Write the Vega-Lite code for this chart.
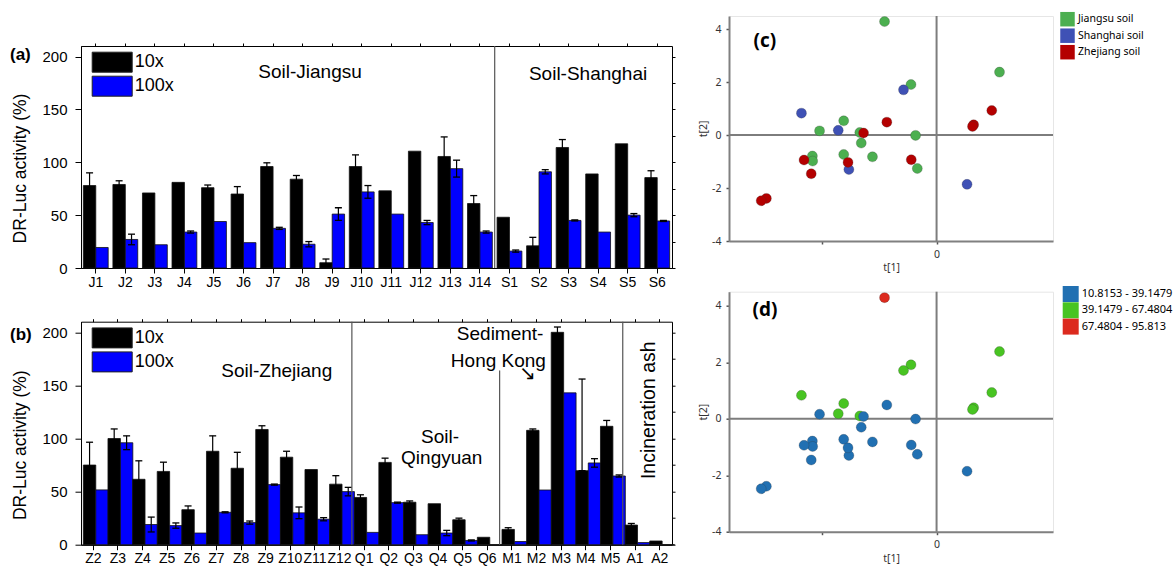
{
  "$schema": "https://vega.github.io/schema/vega-lite/v6.json",
  "autosize": "none",
  "padding": {"left": 81, "top": 16, "right": 1092, "bottom": 552},
  "background": "white",
  "config": {
    "font": "Liberation Sans",
    "view": {"stroke": "#000", "strokeWidth": 1},
    "axis": {"grid": false, "labelColor": "#000", "tickColor": "#000", "domainColor": "#000", "titleColor": "#000"},
    "legend": {"labelColor": "#000"}
  },
  "datasets": {
    "A": [
      {"cat":"J1","dil":"10x","v":78,"lo":66,"hi":90},{"cat":"J1","dil":"100x","v":19.4},
      {"cat":"J2","dil":"10x","v":79,"lo":75.5,"hi":82.5},{"cat":"J2","dil":"100x","v":27,"lo":22,"hi":32},
      {"cat":"J3","dil":"10x","v":71},{"cat":"J3","dil":"100x","v":22},
      {"cat":"J4","dil":"10x","v":81},{"cat":"J4","dil":"100x","v":34,"lo":33,"hi":35},
      {"cat":"J5","dil":"10x","v":76,"lo":73.5,"hi":78.5},{"cat":"J5","dil":"100x","v":44},
      {"cat":"J6","dil":"10x","v":70,"lo":63,"hi":77},{"cat":"J6","dil":"100x","v":24},
      {"cat":"J7","dil":"10x","v":96,"lo":92.5,"hi":99.5},{"cat":"J7","dil":"100x","v":37.5,"lo":36.5,"hi":38.5},
      {"cat":"J8","dil":"10x","v":84,"lo":80.5,"hi":87.5},{"cat":"J8","dil":"100x","v":22.5,"lo":20,"hi":25},
      {"cat":"J9","dil":"10x","v":5,"lo":1.5,"hi":8.5},{"cat":"J9","dil":"100x","v":51,"lo":45,"hi":57},
      {"cat":"J10","dil":"10x","v":96,"lo":85,"hi":107},{"cat":"J10","dil":"100x","v":72,"lo":66,"hi":78},
      {"cat":"J11","dil":"10x","v":73},{"cat":"J11","dil":"100x","v":51},
      {"cat":"J12","dil":"10x","v":110.5},{"cat":"J12","dil":"100x","v":43,"lo":41,"hi":45},
      {"cat":"J13","dil":"10x","v":105.5,"lo":87,"hi":124},{"cat":"J13","dil":"100x","v":94,"lo":86,"hi":102},
      {"cat":"J14","dil":"10x","v":61,"lo":53.5,"hi":68.5},{"cat":"J14","dil":"100x","v":34,"lo":33,"hi":35},
      {"cat":"S1","dil":"10x","v":48},{"cat":"S1","dil":"100x","v":16,"lo":15,"hi":17},
      {"cat":"S2","dil":"10x","v":21,"lo":13,"hi":29},{"cat":"S2","dil":"100x","v":91,"lo":89,"hi":93},
      {"cat":"S3","dil":"10x","v":114,"lo":106.5,"hi":121.5},{"cat":"S3","dil":"100x","v":45,"lo":44.5,"hi":45.5},
      {"cat":"S4","dil":"10x","v":89},{"cat":"S4","dil":"100x","v":34},
      {"cat":"S5","dil":"10x","v":117.5},{"cat":"S5","dil":"100x","v":50,"lo":48.5,"hi":51.5},
      {"cat":"S6","dil":"10x","v":85.5,"lo":79,"hi":92},{"cat":"S6","dil":"100x","v":44.5,"lo":44,"hi":45}
    ],
    "B": [
      {"cat":"Z2","dil":"10x","v":75,"lo":53.5,"hi":96.5},{"cat":"Z2","dil":"100x","v":51.6},
      {"cat":"Z3","dil":"10x","v":100,"lo":91,"hi":109},{"cat":"Z3","dil":"100x","v":96,"lo":89.5,"hi":102.5},
      {"cat":"Z4","dil":"10x","v":61.6,"lo":44.2,"hi":79},{"cat":"Z4","dil":"100x","v":19,"lo":12,"hi":26},
      {"cat":"Z5","dil":"10x","v":69,"lo":60.3,"hi":77.7},{"cat":"Z5","dil":"100x","v":18,"lo":15.5,"hi":20.5},
      {"cat":"Z6","dil":"10x","v":33,"lo":29.5,"hi":36.5},{"cat":"Z6","dil":"100x","v":11},
      {"cat":"Z7","dil":"10x","v":88,"lo":73.5,"hi":102.5},{"cat":"Z7","dil":"100x","v":30.5,"lo":30,"hi":31},
      {"cat":"Z8","dil":"10x","v":72,"lo":57,"hi":87},{"cat":"Z8","dil":"100x","v":20.8,"lo":19.3,"hi":22.3},
      {"cat":"Z9","dil":"10x","v":108.5,"lo":105,"hi":112},{"cat":"Z9","dil":"100x","v":56.6,"lo":56.1,"hi":57.1},
      {"cat":"Z10","dil":"10x","v":82.4,"lo":76.8,"hi":88},{"cat":"Z10","dil":"100x","v":30,"lo":24.5,"hi":35.5},
      {"cat":"Z11","dil":"10x","v":70.8},{"cat":"Z11","dil":"100x","v":24,"lo":22.5,"hi":25.5},
      {"cat":"Z12","dil":"10x","v":57,"lo":49,"hi":65},{"cat":"Z12","dil":"100x","v":50,"lo":46,"hi":54},
      {"cat":"Q1","dil":"10x","v":44.5,"lo":42,"hi":47},{"cat":"Q1","dil":"100x","v":11.6},
      {"cat":"Q2","dil":"10x","v":77.5,"lo":73.5,"hi":81.5},{"cat":"Q2","dil":"100x","v":39.6,"lo":39.1,"hi":40.1},
      {"cat":"Q3","dil":"10x","v":40,"lo":38.8,"hi":41.2},{"cat":"Q3","dil":"100x","v":9.4},
      {"cat":"Q4","dil":"10x","v":38.6},{"cat":"Q4","dil":"100x","v":11,"lo":8.5,"hi":13.5},
      {"cat":"Q5","dil":"10x","v":23.5,"lo":22,"hi":25},{"cat":"Q5","dil":"100x","v":4,"lo":3.5,"hi":4.5},
      {"cat":"Q6","dil":"10x","v":7},{"cat":"Q6","dil":"100x","v":0},
      {"cat":"M1","dil":"10x","v":14.4,"lo":12.8,"hi":16},{"cat":"M1","dil":"100x","v":3},
      {"cat":"M2","dil":"10x","v":107.7,"lo":106.4,"hi":109},{"cat":"M2","dil":"100x","v":51.5},
      {"cat":"M3","dil":"10x","v":200,"lo":195,"hi":205},{"cat":"M3","dil":"100x","v":143},
      {"cat":"M4","dil":"10x","v":69.7,"lo":69.7,"hi":156},{"cat":"M4","dil":"100x","v":77,"lo":73,"hi":81},
      {"cat":"M5","dil":"10x","v":111.5,"lo":106,"hi":117},{"cat":"M5","dil":"100x","v":64.7,"lo":63.7,"hi":65.7},
      {"cat":"A1","dil":"10x","v":18.5,"lo":17,"hi":20},{"cat":"A1","dil":"100x","v":2},
      {"cat":"A2","dil":"10x","v":3.5},{"cat":"A2","dil":"100x","v":0}
    ],
    "P": [
      {"t1":-1.81,"t2":4.29,"soil":"Jiangsu soil","grp":"67.4804 - 95.813"},
      {"t1":2.19,"t2":2.38,"soil":"Jiangsu soil","grp":"39.1479 - 67.4804"},
      {"t1":-0.89,"t2":1.91,"soil":"Jiangsu soil","grp":"39.1479 - 67.4804"},
      {"t1":-3.23,"t2":0.54,"soil":"Jiangsu soil","grp":"39.1479 - 67.4804"},
      {"t1":-4.07,"t2":0.16,"soil":"Jiangsu soil","grp":"10.8153 - 39.1479"},
      {"t1":-2.67,"t2":0.10,"soil":"Jiangsu soil","grp":"39.1479 - 67.4804"},
      {"t1":-2.62,"t2":-0.30,"soil":"Jiangsu soil","grp":"10.8153 - 39.1479"},
      {"t1":-0.73,"t2":-0.01,"soil":"Jiangsu soil","grp":"10.8153 - 39.1479"},
      {"t1":-4.32,"t2":-0.79,"soil":"Jiangsu soil","grp":"10.8153 - 39.1479"},
      {"t1":-4.31,"t2":-0.98,"soil":"Jiangsu soil","grp":"10.8153 - 39.1479"},
      {"t1":-3.23,"t2":-0.73,"soil":"Jiangsu soil","grp":"10.8153 - 39.1479"},
      {"t1":-2.23,"t2":-0.82,"soil":"Jiangsu soil","grp":"10.8153 - 39.1479"},
      {"t1":-0.67,"t2":-1.26,"soil":"Jiangsu soil","grp":"10.8153 - 39.1479"},
      {"t1":-4.70,"t2":0.83,"soil":"Shanghai soil","grp":"39.1479 - 67.4804"},
      {"t1":-3.42,"t2":0.18,"soil":"Shanghai soil","grp":"39.1479 - 67.4804"},
      {"t1":-1.15,"t2":1.71,"soil":"Shanghai soil","grp":"39.1479 - 67.4804"},
      {"t1":-3.05,"t2":-1.30,"soil":"Shanghai soil","grp":"10.8153 - 39.1479"},
      {"t1":1.06,"t2":-1.86,"soil":"Shanghai soil","grp":"10.8153 - 39.1479"},
      {"t1":-1.73,"t2":0.49,"soil":"Zhejiang soil","grp":"10.8153 - 39.1479"},
      {"t1":-2.54,"t2":0.08,"soil":"Zhejiang soil","grp":"10.8153 - 39.1479"},
      {"t1":1.92,"t2":0.93,"soil":"Zhejiang soil","grp":"39.1479 - 67.4804"},
      {"t1":1.29,"t2":0.39,"soil":"Zhejiang soil","grp":"39.1479 - 67.4804"},
      {"t1":1.25,"t2":0.33,"soil":"Zhejiang soil","grp":"39.1479 - 67.4804"},
      {"t1":-4.61,"t2":-0.94,"soil":"Zhejiang soil","grp":"10.8153 - 39.1479"},
      {"t1":-3.08,"t2":-1.03,"soil":"Zhejiang soil","grp":"10.8153 - 39.1479"},
      {"t1":-4.36,"t2":-1.46,"soil":"Zhejiang soil","grp":"10.8153 - 39.1479"},
      {"t1":-0.88,"t2":-0.93,"soil":"Zhejiang soil","grp":"10.8153 - 39.1479"},
      {"t1":-5.92,"t2":-2.39,"soil":"Zhejiang soil","grp":"10.8153 - 39.1479"},
      {"t1":-6.10,"t2":-2.48,"soil":"Zhejiang soil","grp":"10.8153 - 39.1479"}
    ]
  },
  "hconcat": [
    {
      "vconcat": [
        {"data": {"values": [{}]}, "mark": {"type": "point", "opacity": 0}, "width": 591, "height": 1, "view": {"stroke": null}},
        {
          "vconcat": [
            {
              "width": 591, "height": 222,
              "title": {"text": "(a)", "anchor": "start", "frame": "group", "fontSize": 17, "fontWeight": "bold", "dx": -71, "dy": 29, "offset": 0, "baseline": "middle"},
              "layer": [
                {"layer": [
                {"data": {"name": "A"}, "mark": {"type": "bar", "stroke": "#111", "strokeWidth": 0.8},
                 "encoding": {
                   "x": {"field": "cat", "type": "nominal", "scale": {"domain": ["J1","J2","J3","J4","J5","J6","J7","J8","J9","J10","J11","J12","J13","J14","S1","S2","S3","S4","S5","S6"], "paddingInner": 0, "paddingOuter": 0},
                         "axis": {"title": null, "labelAngle": 0, "labelFontSize": 14, "tickSize": 5, "labelPadding": 2, "labelOverlap": false}},
                   "xOffset": {"field": "dil", "type": "nominal", "scale": {"domain": ["10x","100x"], "paddingOuter": 0.19, "paddingInner": 0}},
                   "y": {"field": "v", "type": "quantitative", "scale": {"domain": [0, 210], "nice": false},
                         "axis": {"title": "DR-Luc activity (%)", "titleFontSize": 17.5, "titleFontWeight": "normal", "titlePadding": 12, "titleY": 122, "values": [0,25,50,75,100,125,150,175,200], "labelExpr": "datum.value % 50 == 0 ? datum.label : ''", "labelFontSize": 15, "tickSize": {"condition": {"test": "datum.value % 50 == 0", "value": 6}, "value": 4}, "labelPadding": 8}},
                   "color": {"field": "dil", "type": "nominal", "scale": {"domain": ["10x","100x"], "range": ["#000000","#0000ff"]},
                             "legend": {"orient": "none", "legendX": 20.7, "legendY": 5.7, "title": null, "symbolType": "M-2,-1H2V1H-2Z", "symbolSize": 400, "symbolStrokeColor": "#222", "symbolStrokeWidth": 1, "symbolOpacity": 1, "labelFontSize": 18, "labelOffset": 12, "rowPadding": -1, "padding": 0}}
                 }},
                {"data": {"name": "A"}, "transform": [{"filter": "isValid(datum.hi)"}], "mark": {"type": "rule", "color": "#000", "strokeWidth": 1.2},
                 "encoding": {"x": {"field": "cat", "type": "nominal"}, "xOffset": {"field": "dil", "type": "nominal"}, "y": {"field": "lo", "type": "quantitative"}, "y2": {"field": "hi"}}},
                {"data": {"name": "A"}, "transform": [{"filter": "isValid(datum.hi)"}], "mark": {"type": "tick", "color": "#000", "size": 7, "thickness": 1.3, "opacity": 1},
                 "encoding": {"x": {"field": "cat", "type": "nominal"}, "xOffset": {"field": "dil", "type": "nominal"}, "y": {"field": "hi", "type": "quantitative"}}},
                {"data": {"name": "A"}, "transform": [{"filter": "isValid(datum.hi)"}], "mark": {"type": "tick", "color": "#000", "size": 7, "thickness": 1.3, "opacity": 1},
                 "encoding": {"x": {"field": "cat", "type": "nominal"}, "xOffset": {"field": "dil", "type": "nominal"}, "y": {"field": "lo", "type": "quantitative"}}},
                {"data": {"values": [{}]}, "mark": {"type": "rule", "color": "#555", "strokeWidth": 1.2},
                 "encoding": {"x": {"datum": "S1", "bandPosition": 0}, "y": {"datum": 0}, "y2": {"datum": 210}}},
                {"data": {"values": [{}]}, "mark": {"type": "text", "text": "Soil-Jiangsu", "fontSize": 19, "baseline": "middle"},
                 "encoding": {"x": {"datum": "J8", "bandPosition": 0.75}, "y": {"datum": 185.4}}},
                {"data": {"values": [{}]}, "mark": {"type": "text", "text": "Soil-Shanghai", "fontSize": 19, "baseline": "middle"},
                 "encoding": {"x": {"datum": "S4", "bandPosition": 0.16}, "y": {"datum": 183.7}}}
                ]},
                {"data": {"values": [{}]}, "mark": {"type": "point", "opacity": 0},
                 "encoding": {
                   "x": {"datum": "J1", "type": "nominal", "axis": {"orient": "top", "labels": false, "domain": false, "tickSize": 3, "title": null}},
                   "y": {"datum": 0, "type": "quantitative", "axis": {"orient": "right", "labels": false, "domain": false, "tickSize": 3, "title": null, "values": [0,25,50,75,100,125,150,175,200]}}
                 }}
              ],
              "resolve": {"axis": {"x": "independent", "y": "independent"}}
            },
            {
              "width": 591, "height": 223,
              "title": {"text": "(b)", "anchor": "start", "frame": "group", "fontSize": 17, "fontWeight": "bold", "dx": -71, "dy": 34, "offset": 0, "baseline": "middle"},
              "layer": [
                {"layer": [
                {"data": {"name": "B"}, "mark": {"type": "bar", "stroke": "#111", "strokeWidth": 0.8},
                 "encoding": {
                   "x": {"field": "cat", "type": "nominal", "scale": {"domain": ["Z2","Z3","Z4","Z5","Z6","Z7","Z8","Z9","Z10","Z11","Z12","Q1","Q2","Q3","Q4","Q5","Q6","M1","M2","M3","M4","M5","A1","A2"], "paddingInner": 0, "paddingOuter": 0},
                         "axis": {"title": null, "labelAngle": 0, "labelFontSize": 14, "tickSize": 5, "labelPadding": 2, "labelOverlap": false}},
                   "xOffset": {"field": "dil", "type": "nominal", "scale": {"domain": ["10x","100x"], "paddingOuter": 0.19, "paddingInner": 0}},
                   "y": {"field": "v", "type": "quantitative", "scale": {"domain": [0, 210], "nice": false},
                         "axis": {"title": "DR-Luc activity (%)", "titleFontSize": 17.5, "titleFontWeight": "normal", "titlePadding": 12, "titleY": 123, "values": [0,25,50,75,100,125,150,175,200], "labelExpr": "datum.value % 50 == 0 ? datum.label : ''", "labelFontSize": 15, "tickSize": {"condition": {"test": "datum.value % 50 == 0", "value": 6}, "value": 4}, "labelPadding": 8}},
                   "color": {"field": "dil", "type": "nominal", "scale": {"domain": ["10x","100x"], "range": ["#000000","#0000ff"]},
                             "legend": {"orient": "none", "legendX": 20.7, "legendY": 5.7, "title": null, "symbolType": "M-2,-1H2V1H-2Z", "symbolSize": 400, "symbolStrokeColor": "#222", "symbolStrokeWidth": 1, "symbolOpacity": 1, "labelFontSize": 18, "labelOffset": 12, "rowPadding": -1, "padding": 0}}
                 }},
                {"data": {"name": "B"}, "transform": [{"filter": "isValid(datum.hi)"}], "mark": {"type": "rule", "color": "#000", "strokeWidth": 1.2},
                 "encoding": {"x": {"field": "cat", "type": "nominal"}, "xOffset": {"field": "dil", "type": "nominal"}, "y": {"field": "lo", "type": "quantitative"}, "y2": {"field": "hi"}}},
                {"data": {"name": "B"}, "transform": [{"filter": "isValid(datum.hi)"}], "mark": {"type": "tick", "color": "#000", "size": 7, "thickness": 1.3, "opacity": 1},
                 "encoding": {"x": {"field": "cat", "type": "nominal"}, "xOffset": {"field": "dil", "type": "nominal"}, "y": {"field": "hi", "type": "quantitative"}}},
                {"data": {"name": "B"}, "transform": [{"filter": "isValid(datum.hi)"}], "mark": {"type": "tick", "color": "#000", "size": 7, "thickness": 1.3, "opacity": 1},
                 "encoding": {"x": {"field": "cat", "type": "nominal"}, "xOffset": {"field": "dil", "type": "nominal"}, "y": {"field": "lo", "type": "quantitative"}}},
                {"data": {"values": [{}]}, "mark": {"type": "rule", "color": "#555", "strokeWidth": 1.2},
                 "encoding": {"x": {"datum": "Q1", "bandPosition": 0}, "y": {"datum": 0}, "y2": {"datum": 210}}},
                {"data": {"values": [{}]}, "mark": {"type": "rule", "color": "#555", "strokeWidth": 1.2},
                 "encoding": {"x": {"datum": "M1", "bandPosition": 0}, "y": {"datum": 0}, "y2": {"datum": 164}}},
                {"data": {"values": [{}]}, "mark": {"type": "rule", "color": "#555", "strokeWidth": 1.2},
                 "encoding": {"x": {"datum": "A1", "bandPosition": 0}, "y": {"datum": 0}, "y2": {"datum": 210}}},
                {"data": {"values": [{}]}, "mark": {"type": "text", "text": "Soil-Zhejiang", "fontSize": 19, "baseline": "middle"},
                 "encoding": {"x": {"datum": "Z9", "bandPosition": 0.95}, "y": {"datum": 163.6}}},
                {"data": {"values": [{}]}, "mark": {"type": "text", "text": "Soil-", "fontSize": 19, "baseline": "middle"},
                 "encoding": {"x": {"datum": "Q4", "bandPosition": 0.58}, "y": {"datum": 101.7}}},
                {"data": {"values": [{}]}, "mark": {"type": "text", "text": "Qingyuan", "fontSize": 19, "baseline": "middle"},
                 "encoding": {"x": {"datum": "Q4", "bandPosition": 0.65}, "y": {"datum": 81.4}}},
                {"data": {"values": [{}]}, "mark": {"type": "text", "text": "Sediment-", "fontSize": 19, "baseline": "middle"},
                 "encoding": {"x": {"datum": "M1", "bandPosition": 0.02}, "y": {"datum": 198.5}}},
                {"data": {"values": [{}]}, "mark": {"type": "text", "text": "Hong Kong", "fontSize": 19, "baseline": "middle"},
                 "encoding": {"x": {"datum": "Q6", "bandPosition": 0.95}, "y": {"datum": 173}}},
                {"data": {"values": [{}]}, "mark": {"type": "text", "text": "→", "font": "DejaVu Sans", "fontSize": 20, "angle": 45, "baseline": "middle"},
                 "encoding": {"x": {"datum": "M2", "bandPosition": 0.13}, "y": {"datum": 160.7}}},
                {"data": {"values": [{}]}, "mark": {"type": "text", "text": "Incineration ash", "fontSize": 19.5, "angle": 270, "baseline": "middle"},
                 "encoding": {"x": {"datum": "A2", "bandPosition": 0.06}, "y": {"datum": 126.6}}}
                ]},
                {"data": {"values": [{}]}, "mark": {"type": "point", "opacity": 0},
                 "encoding": {
                   "x": {"datum": "Z2", "type": "nominal", "axis": {"orient": "top", "labels": false, "domain": false, "tickSize": 3, "title": null}},
                   "y": {"datum": 0, "type": "quantitative", "axis": {"orient": "right", "labels": false, "domain": false, "tickSize": 3, "title": null, "values": [0,25,50,75,100,125,150,175,200]}}
                 }}
              ],
              "resolve": {"axis": {"x": "independent", "y": "independent"}}
            }
          ],
          "spacing": 53.7, "bounds": "flush",
          "resolve": {"scale": {"color": "independent"}, "legend": {"color": "independent"}}
        }
      ],
      "spacing": 29, "bounds": "flush",
      "resolve": {"scale": {"color": "independent"}, "legend": {"color": "independent"}}
    },
    {
      "vconcat": [
        {
          "width": 324, "height": 225,
          "view": {"stroke": "#e6e6e6", "strokeWidth": 1},
          "layer": [
            {"data": {"values": [{}]}, "mark": {"type": "rule", "color": "#7d7d7d", "strokeWidth": 2}, "encoding": {"y": {"datum": 0, "type": "quantitative"}}},
            {"data": {"values": [{}]}, "mark": {"type": "rule", "color": "#7d7d7d", "strokeWidth": 2}, "encoding": {"x": {"datum": 0, "type": "quantitative"}}},
            {"data": {"name": "P"}, "mark": {"type": "circle", "size": 100, "opacity": 1, "stroke": "#333", "strokeWidth": 0.5, "strokeOpacity": 0.5},
             "encoding": {
               "x": {"field": "t1", "type": "quantitative", "scale": {"domain": [-7.22, 4.05], "nice": false, "zero": false},
                     "axis": {"values": [-4, 0], "labelExpr": "datum.value == 0 ? '0' : ''", "title": "t[1]", "domainColor": "#808080", "domainWidth": 2, "tickColor": "#555", "tickSize": 3, "tickWidth": 1.5, "labelFont": "Noto Sans", "labelFontSize": 10.5, "labelColor": "#333", "labelPadding": 5, "titleFont": "Noto Sans", "titleFontSize": 10.5, "titleFontWeight": "normal", "titleColor": "#333", "titlePadding": 3}},
               "y": {"field": "t2", "type": "quantitative", "scale": {"domain": [-4, 4.5], "nice": false, "zero": false},
                     "axis": {"values": [-4,-3,-2,-1,0,1,2,3,4], "labelExpr": "datum.value % 2 == 0 ? '' + datum.value : ''", "title": "t[2]", "domainColor": "#808080", "domainWidth": 2, "tickColor": "#555", "tickSize": 3, "tickWidth": 1.5, "labelFont": "Noto Sans", "labelFontSize": 10.5, "labelColor": "#333", "labelPadding": 5, "titleFont": "Noto Sans", "titleFontSize": 10.5, "titleFontWeight": "normal", "titleColor": "#333", "titlePadding": 3}},
               "color": {"field": "soil", "type": "nominal", "scale": {"domain": ["Jiangsu soil","Shanghai soil","Zhejiang soil"], "range": ["#4caf50","#3f51b5","#b40000"]},
                         "legend": {"orient": "none", "legendX": 331, "legendY": -4.3, "title": null, "symbolType": "square", "symbolSize": 210, "symbolStrokeWidth": 0, "symbolOpacity": 1, "labelFont": "Noto Sans", "labelFontSize": 10.5, "labelOffset": 3, "rowPadding": 1.5, "padding": 0}}
             }},
            {"data": {"values": [{}]}, "mark": {"type": "text", "text": "(c)", "font": "Open Sans", "fontSize": 19, "fontWeight": "bold", "baseline": "middle"},
             "encoding": {"x": {"datum": -5.97}, "y": {"datum": 3.57}}}
          ]
        },
        {
          "width": 324, "height": 240,
          "view": {"stroke": "#e6e6e6", "strokeWidth": 1},
          "layer": [
            {"data": {"values": [{}]}, "mark": {"type": "rule", "color": "#7d7d7d", "strokeWidth": 2}, "encoding": {"y": {"datum": 0, "type": "quantitative"}}},
            {"data": {"values": [{}]}, "mark": {"type": "rule", "color": "#7d7d7d", "strokeWidth": 2}, "encoding": {"x": {"datum": 0, "type": "quantitative"}}},
            {"data": {"name": "P"}, "mark": {"type": "circle", "size": 100, "opacity": 1, "stroke": "#333", "strokeWidth": 0.5, "strokeOpacity": 0.5},
             "encoding": {
               "x": {"field": "t1", "type": "quantitative", "scale": {"domain": [-7.22, 4.05], "nice": false, "zero": false},
                     "axis": {"values": [-4, 0], "labelExpr": "datum.value == 0 ? '0' : ''", "title": "t[1]", "domainColor": "#808080", "domainWidth": 2, "tickColor": "#555", "tickSize": 3, "tickWidth": 1.5, "labelFont": "Noto Sans", "labelFontSize": 10.5, "labelColor": "#333", "labelPadding": 5, "titleFont": "Noto Sans", "titleFontSize": 10.5, "titleFontWeight": "normal", "titleColor": "#333", "titlePadding": 3}},
               "y": {"field": "t2", "type": "quantitative", "scale": {"domain": [-4, 4.5], "nice": false, "zero": false},
                     "axis": {"values": [-4,-3,-2,-1,0,1,2,3,4], "labelExpr": "datum.value % 2 == 0 ? '' + datum.value : ''", "title": "t[2]", "domainColor": "#808080", "domainWidth": 2, "tickColor": "#555", "tickSize": 3, "tickWidth": 1.5, "labelFont": "Noto Sans", "labelFontSize": 10.5, "labelColor": "#333", "labelPadding": 5, "titleFont": "Noto Sans", "titleFontSize": 10.5, "titleFontWeight": "normal", "titleColor": "#333", "titlePadding": 3}},
               "color": {"field": "grp", "type": "nominal", "scale": {"domain": ["10.8153 - 39.1479","39.1479 - 67.4804","67.4804 - 95.813"], "range": ["#2170b2","#48c422","#dc2a1e"]},
                         "legend": {"orient": "none", "legendX": 333.7, "legendY": -5.7, "title": null, "symbolType": "square", "symbolSize": 256, "symbolStrokeWidth": 0, "symbolOpacity": 1, "labelFont": "Noto Sans", "labelFontSize": 11, "labelOffset": 3, "rowPadding": 0.3, "padding": 0}}
             }},
            {"data": {"values": [{}]}, "mark": {"type": "text", "text": "(d)", "font": "Open Sans", "fontSize": 19, "fontWeight": "bold", "baseline": "middle"},
             "encoding": {"x": {"datum": -5.97}, "y": {"datum": 3.86}}}
          ]
        }
      ],
      "spacing": 50.7, "bounds": "flush",
      "resolve": {"scale": {"color": "independent"}, "legend": {"color": "independent"}}
    }
  ],
  "spacing": 648,
  "bounds": "flush",
  "resolve": {"scale": {"color": "independent"}, "legend": {"color": "independent"}}
}
